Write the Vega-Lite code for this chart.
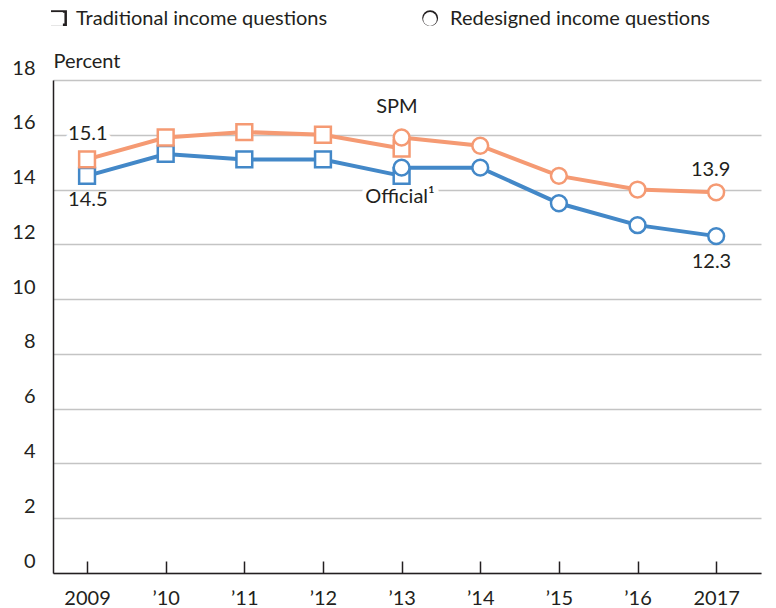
{
  "$schema": "https://vega.github.io/schema/vega-lite/v6.json",
  "width": 708,
  "height": 493,
  "autosize": {"type": "none"},
  "padding": {"left": 53, "top": 80, "right": 15, "bottom": 35},
  "background": "white",
  "config": {
    "font": "Lato",
    "view": {"stroke": null},
    "text": {"font": "Lato", "fontSize": 20, "color": "#231f20"}
  },
  "datasets": {
    "series": [
      {"series": "Official", "method": "Traditional income questions", "year": 2009, "value": 14.5},
      {"series": "Official", "method": "Traditional income questions", "year": 2010, "value": 15.3},
      {"series": "Official", "method": "Traditional income questions", "year": 2011, "value": 15.1},
      {"series": "Official", "method": "Traditional income questions", "year": 2012, "value": 15.1},
      {"series": "Official", "method": "Traditional income questions", "year": 2013, "value": 14.5},
      {"series": "Official", "method": "Redesigned income questions", "year": 2013, "value": 14.8},
      {"series": "Official", "method": "Redesigned income questions", "year": 2014, "value": 14.8},
      {"series": "Official", "method": "Redesigned income questions", "year": 2015, "value": 13.5},
      {"series": "Official", "method": "Redesigned income questions", "year": 2016, "value": 12.7},
      {"series": "Official", "method": "Redesigned income questions", "year": 2017, "value": 12.3},
      {"series": "SPM", "method": "Traditional income questions", "year": 2009, "value": 15.1},
      {"series": "SPM", "method": "Traditional income questions", "year": 2010, "value": 15.9},
      {"series": "SPM", "method": "Traditional income questions", "year": 2011, "value": 16.1},
      {"series": "SPM", "method": "Traditional income questions", "year": 2012, "value": 16.0},
      {"series": "SPM", "method": "Traditional income questions", "year": 2013, "value": 15.5},
      {"series": "SPM", "method": "Redesigned income questions", "year": 2013, "value": 15.9},
      {"series": "SPM", "method": "Redesigned income questions", "year": 2014, "value": 15.6},
      {"series": "SPM", "method": "Redesigned income questions", "year": 2015, "value": 14.5},
      {"series": "SPM", "method": "Redesigned income questions", "year": 2016, "value": 14.0},
      {"series": "SPM", "method": "Redesigned income questions", "year": 2017, "value": 13.9}
    ],
    "labels": [
      {"text": "15.1", "year": 2009.01, "value": 16.03},
      {"text": "14.5", "year": 2009.01, "value": 13.62},
      {"text": "13.9", "year": 2016.93, "value": 14.71},
      {"text": "12.3", "year": 2016.94, "value": 11.35},
      {"text": "SPM", "year": 2012.94, "value": 17.0},
      {"text": "Official¹", "year": 2012.98, "value": 13.73}
    ],
    "keys": [
      {"method": "Traditional income questions", "year": 2008.643, "value": 20.26},
      {"method": "Redesigned income questions", "year": 2013.363, "value": 20.26}
    ]
  },
  "encoding": {
    "x": {
      "field": "year",
      "type": "quantitative",
      "scale": {"domain": [2008.567, 2017.57], "nice": false, "zero": false},
      "axis": {
        "title": null,
        "grid": false,
        "values": [2009, 2010, 2011, 2012, 2013, 2014, 2015, 2016, 2017],
        "labelExpr": "datum.value == 2009 || datum.value == 2017 ? toString(datum.value) : '’' + substring(toString(datum.value), 2)",
        "domainColor": "#231f20",
        "domainWidth": 1.5,
        "tickColor": "#231f20",
        "tickWidth": 1.5,
        "tickSize": -12,
        "labelPadding": 27,
        "labelFontSize": 20,
        "labelColor": "#231f20",
        "labelFont": "Lato"
      }
    },
    "y": {
      "field": "value",
      "type": "quantitative",
      "scale": {"domain": [0, 18], "nice": false},
      "axis": {
        "values": [0, 2, 4, 6, 8, 10, 12, 14, 16, 18],
        "grid": true,
        "gridColor": "#c4c4c4",
        "gridWidth": 1.5,
        "ticks": false,
        "domainColor": "#231f20",
        "domainWidth": 1.5,
        "labelOffset": -12,
        "labelPadding": 18,
        "labelFontSize": 20,
        "labelColor": "#231f20",
        "labelFont": "Lato",
        "title": "Percent",
        "titleAngle": 0,
        "titleX": 0,
        "titleY": -19,
        "titleAlign": "left",
        "titleBaseline": "middle",
        "titleFontWeight": "normal",
        "titleFontSize": 20,
        "titleColor": "#231f20",
        "titleFont": "Lato"
      }
    }
  },
  "layer": [
    {
      "data": {"name": "labels"},
      "transform": [{"filter": "datum.text == '15.1' || datum.text == 'Official¹'"}],
      "mark": {"type": "text", "stroke": "white", "strokeWidth": 10, "strokeJoin": "round", "fill": "white", "fontSize": 20},
      "encoding": {"text": {"field": "text"}}
    },
    {
      "data": {"name": "series"},
      "mark": {"type": "line", "strokeWidth": 4},
      "encoding": {
        "stroke": {"field": "series", "type": "nominal", "scale": {"domain": ["Official", "SPM"], "range": ["#4388C8", "#F59A73"]}, "legend": null},
        "detail": {"field": "method"}
      }
    },
    {
      "data": {"name": "series"},
      "mark": {"type": "point", "filled": true, "fill": "white", "fillOpacity": 1, "opacity": 1, "strokeWidth": 2.5, "size": 250},
      "encoding": {
        "stroke": {"field": "series", "type": "nominal", "legend": null},
        "shape": {
          "field": "method",
          "type": "nominal",
          "scale": {"domain": ["Traditional income questions", "Redesigned income questions"], "range": ["square", "circle"]},
          "legend": {
            "orient": "none",
            "legendX": -7,
            "legendY": -71,
            "direction": "horizontal",
            "title": null,
            "padding": 0,
            "symbolSize": 190,
            "symbolStrokeColor": "transparent",
            "symbolFillColor": "transparent",
            "symbolStrokeWidth": 0,
            "symbolOpacity": 1,
            "labelFontSize": 20,
            "labelFont": "Lato",
            "labelColor": "#231f20",
            "labelOffset": 10,
            "labelLimit": 0,
            "columnPadding": 92
          }
        }
      }
    },
    {
      "data": {"name": "keys"},
      "mark": {"type": "point", "filled": true, "fill": "white", "fillOpacity": 1, "opacity": 1, "stroke": "#231f20", "strokeWidth": 2.5, "size": 180},
      "encoding": {
        "shape": {"field": "method", "type": "nominal"}
      }
    },
    {
      "data": {"name": "labels"},
      "mark": {"type": "text", "fontSize": 20, "fill": "#231f20"},
      "encoding": {"text": {"field": "text"}}
    }
  ]
}
